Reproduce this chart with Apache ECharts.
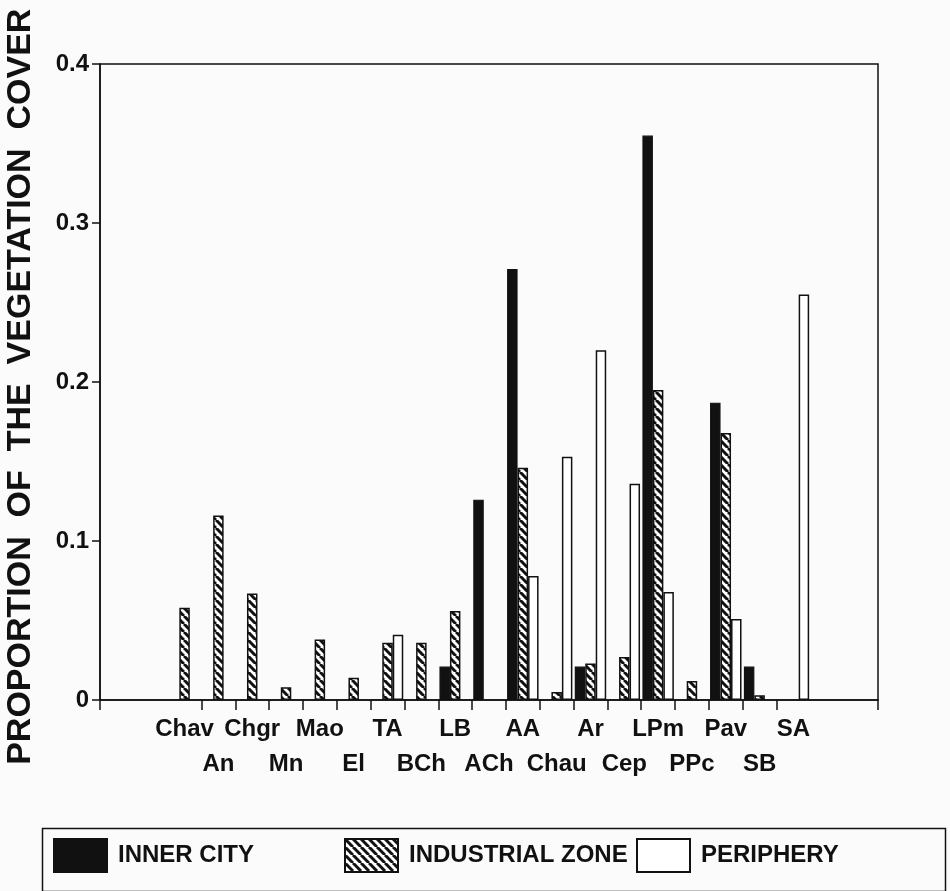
<!DOCTYPE html>
<html>
<head>
<meta charset="utf-8">
<script src="https://cdn.jsdelivr.net/npm/echarts@6/dist/echarts.min.js"></script>
<style>
html,body{margin:0;padding:0;background:#fbfbfb;}
#chart{width:950px;height:891px;}
</style>
</head>
<body>
<div id="chart"></div>
<script>
// ---- data ----
const categories = ['Chav','An','Chgr','Mn','Mao','El','TA','BCh','LB','ACh','AA','Chau','Ar','Cep','LPm','PPc','Pav','SB','SA'];
const innerCity  = [null,null,null,null,null,null,null,null,0.021,0.126,0.271,null,0.021,null,0.355,null,0.187,0.021,null];
const industrial = [0.058,0.116,0.067,0.008,0.038,0.014,0.036,0.036,0.056,null,0.146,0.005,0.023,0.027,0.195,0.012,0.168,0.003,null];
const periphery  = [null,null,null,null,null,null,0.041,null,null,null,0.078,0.153,0.220,0.136,0.068,null,0.051,null,0.255];
const yTicks = [0, 0.1, 0.2, 0.3, 0.4];
const seriesNames = ['INNER CITY','INDUSTRIAL ZONE','PERIPHERY'];
const yTitle = 'PROPORTION  OF  THE  VEGETATION  COVER ';

// two empty bands on each side of the category axis
const pad = ['', ''];
const axisData = pad.concat(categories, pad);
const padVals = arr => [null, null].concat(arr, [null, null]);

// hatch pattern
const tile = document.createElement('canvas');
tile.width = 8; tile.height = 8;
const c = tile.getContext('2d');
c.fillStyle = '#ffffff';
c.fillRect(0, 0, 8, 8);
c.strokeStyle = '#111';
c.lineWidth = 3;
for (const k of [-8, 0, 8]) {
  c.beginPath(); c.moveTo(k, 0); c.lineTo(k + 8, 8); c.stroke();
}
const hatch = { image: tile, repeat: 'repeat' };

const FONT = "'Liberation Sans', Arial, Helvetica, sans-serif";
const INK = '#111';

const chart = echarts.init(document.getElementById('chart'), null, { renderer: 'canvas' });

const legendBase = {
  top: 838, itemWidth: 53, itemHeight: 33, icon: 'rect', padding: 0,
  selectedMode: false,
  textStyle: { fontFamily: FONT, fontWeight: 'bold', fontSize: 24, color: INK, padding: [0, 0, 0, 6] }
};

chart.setOption({
  backgroundColor: '#fbfbfb',
  animation: false,
  grid: {
    left: 100, right: 72, top: 64, bottom: 191,
    outerBoundsMode: 'none', containLabel: false,
    show: true, borderColor: INK, borderWidth: 1.5, backgroundColor: 'transparent'
  },
  legend: [
    Object.assign({ left: 53, data: [seriesNames[0]] }, legendBase),
    Object.assign({ left: 344, data: [seriesNames[1]] }, legendBase),
    Object.assign({ left: 636, data: [seriesNames[2]] }, legendBase)
  ],
  graphic: [{
    type: 'rect', left: 40, top: 826,
    shape: { width: 903, height: 63 },
    style: { fill: 'none', stroke: INK, lineWidth: 1.5 }
  }],
  xAxis: {
    type: 'category',
    data: axisData,
    boundaryGap: true,
    axisLine: { lineStyle: { color: INK, width: 1.5 } },
    axisTick: {
      show: true, length: 10, inside: false,
      interval: (i) => (i === 0 || (i >= 3 && i <= 20) || i === 23),
      lineStyle: { color: INK, width: 1.5 }
    },
    axisLabel: {
      interval: 0, margin: 12,
      fontFamily: FONT, fontWeight: 'bold', fontSize: 24, color: INK, lineHeight: 35,
      formatter: (v) => {
        if (!v) return '';
        return categories.indexOf(v) % 2 === 1 ? '\n' + v : v;
      }
    },
    splitLine: { show: false }
  },
  yAxis: {
    type: 'value',
    min: yTicks[0], max: yTicks[yTicks.length - 1], interval: 0.1,
    name: yTitle, nameLocation: 'middle', nameRotate: 90, nameGap: 62,
    nameTextStyle: { fontFamily: FONT, fontWeight: 'bold', fontSize: 34, color: INK },
    axisLine: { show: true, lineStyle: { color: INK, width: 1.5 } },
    axisTick: { show: true, length: 8, lineStyle: { color: INK, width: 1.5 } },
    axisLabel: {
      margin: 11, fontFamily: FONT, fontWeight: 'bold', fontSize: 24, color: INK,
      formatter: (v) => (v === 0 ? '0' : v.toFixed(1))
    },
    splitLine: { show: false }
  },
  series: [
    {
      name: seriesNames[0], type: 'bar', data: padVals(innerCity),
      barGap: '0%', barCategoryGap: '7%',
      itemStyle: { color: INK, borderColor: INK, borderWidth: 1.2 }
    },
    {
      name: seriesNames[1], type: 'bar', data: padVals(industrial),
      barGap: '0%', barCategoryGap: '7%',
      itemStyle: { color: hatch, borderColor: INK, borderWidth: 1.5 }
    },
    {
      name: seriesNames[2], type: 'bar', data: padVals(periphery),
      barGap: '0%', barCategoryGap: '7%',
      itemStyle: { color: '#ffffff', borderColor: INK, borderWidth: 1.5 }
    }
  ]
});
</script>
</body>
</html>
